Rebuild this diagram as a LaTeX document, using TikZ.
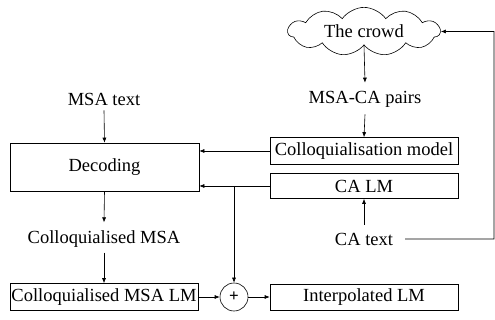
\documentclass[tikz,border=0pt]{standalone}
\usepackage{fontspec}
\setmainfont{Liberation Serif}
\usetikzlibrary{shapes.symbols,arrows.meta}
\begin{document}
\begin{tikzpicture}[x=1pt,y=-1pt,
  every node/.style={font=\fontsize{18.5}{20}\selectfont, inner sep=0pt},
  box/.style={draw, line width=0.6pt, rectangle},
  lbl/.style={},
  conn/.style={line width=0.6pt, -{Latex[length=5pt,width=4pt]}},
  plain/.style={line width=0.6pt}]
\useasboundingbox (0,0) rectangle (495,320);
\node[draw, line width=0.6pt, cloud, cloud puffs=11, cloud puff arc=110, aspect=3.4, minimum width=152, minimum height=44] (crowd) at (364,31.5) {The crowd};
\node[lbl] (pairs) at (365,99) {MSA-CA pairs};
\node[box, minimum width=188, minimum height=27] (cm) at (364,151) {Colloquialisation model};
\node[box, minimum width=188, minimum height=25] (calm) at (364,186) {CA LM};
\node[lbl] (catext) at (364,239) {CA text};
\node[lbl] (msa) at (104,99) {MSA text};
\node[box, minimum width=189, minimum height=48] (dec) at (104.5,167) {Decoding};
\node[lbl] (cmsa) at (104,239) {Colloquialised MSA};
\node[box, minimum width=188, minimum height=27] (cmlm) at (104,297) {Colloquialised MSA LM};
\node[draw, line width=0.6pt, circle, minimum size=28, font=\fontsize{17}{17}\bfseries] (plus) at (234,297) {+};
\node[box, minimum width=188, minimum height=26] (ilm) at (364,297) {Interpolated LM};
\coordinate (br) at (234,186);
\coordinate (rc) at (494,239);
\coordinate (rt) at (494,31.5);

\draw[conn] (crowd.south) -- ([yshift=8pt]pairs.north);
\draw[conn] ([yshift=-7pt]pairs.south) -- (cm.north);
\draw[conn] ([yshift=8pt]catext.north) -- (calm.south);
\draw[conn] ([xshift=12pt]catext.east) -- (rc) -- (rt) -- (crowd.east);
\draw[conn] ([yshift=-5pt]msa.south) -- (dec.north);
\draw[conn] (cm.west) -- (dec.east |- cm.west);
\draw[conn] (calm.west) -- (dec.east |- calm.west);
\draw[conn] (br) -- (plus.north);
\draw[conn] (dec.south) -- ([yshift=8pt]cmsa.north);
\draw[conn] ([yshift=-5pt]cmsa.south) -- (cmlm.north);
\draw[conn] (cmlm.east) -- (plus.west);
\draw[conn] (plus.east) -- (ilm.west);
\end{tikzpicture}
\end{document}
